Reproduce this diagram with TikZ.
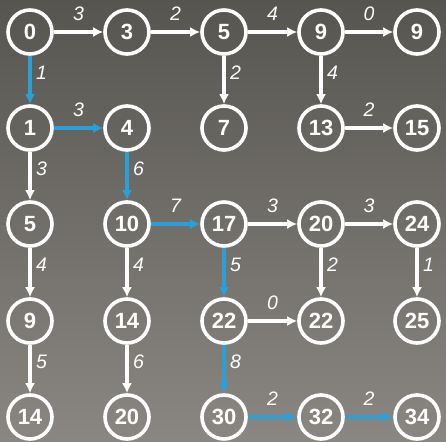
\documentclass[tikz,border=0pt]{standalone}
\usepackage{fontspec}
\setmainfont{Liberation Sans}
\usepackage{xcolor}
\usetikzlibrary{arrows.meta}

\definecolor{pathblue}{HTML}{2A9FD8}
\definecolor{boardtop}{HTML}{57554F}
\definecolor{boardbot}{HTML}{8A8782}

\begin{document}
\begin{tikzpicture}[x=1pt,y=-1pt,
  vtx/.style={circle, draw=white, line width=3.6pt, minimum size=44pt, inner sep=0pt,
    text=white, font=\bfseries\fontsize{22}{22}\selectfont},
  edge/.style={-{Latex[length=10pt,width=10pt]}, line width=3.2pt, draw=white},
  best/.style={edge, draw=pathblue},
  wt/.style={text=white, font=\itshape\fontsize{19.5}{19.5}\selectfont, inner sep=1.5pt}]

\shade[top color=boardtop, bottom color=boardbot] (0,0) rectangle (446,441);
\useasboundingbox (0,0) rectangle (446,441);

% row 1
\node[vtx] (a0) at (30,32) {0};
\node[vtx] (a1) at (127,32) {3};
\node[vtx] (a2) at (224,32) {5};
\node[vtx] (a3) at (321,32) {9};
\node[vtx] (a4) at (417,32) {9};
% row 2
\node[vtx] (b0) at (30,128) {1};
\node[vtx] (b1) at (127,128) {4};
\node[vtx] (b2) at (224,128) {7};
\node[vtx] (b3) at (321,128) {13};
\node[vtx] (b4) at (417,128) {15};
% row 3
\node[vtx] (c0) at (30,224) {5};
\node[vtx] (c1) at (127,224) {10};
\node[vtx] (c2) at (224,224) {17};
\node[vtx] (c3) at (321,224) {20};
\node[vtx] (c4) at (417,224) {24};
% row 4
\node[vtx] (d0) at (30,321) {9};
\node[vtx] (d1) at (127,321) {14};
\node[vtx] (d2) at (224,321) {22};
\node[vtx] (d3) at (321,321) {22};
\node[vtx] (d4) at (417,321) {25};
% row 5
\node[vtx] (e0) at (30,417) {14};
\node[vtx] (e1) at (127,417) {20};
\node[vtx] (e2) at (224,417) {30};
\node[vtx] (e3) at (321,417) {32};
\node[vtx] (e4) at (417,417) {34};

% across
\draw[edge] (a0) -- (a1) node[wt, midway, above=8pt]{3};
\draw[edge] (a1) -- (a2) node[wt, midway, above=8pt]{2};
\draw[edge] (a2) -- (a3) node[wt, midway, above=8pt]{4};
\draw[edge] (a3) -- (a4) node[wt, midway, above=8pt]{0};
\draw[best] (b0) -- (b1) node[wt, midway, above=8pt]{3};
\draw[edge] (b3) -- (b4) node[wt, midway, above=8pt]{2};
\draw[best] (c1) -- (c2) node[wt, midway, above=8pt]{7};
\draw[edge] (c2) -- (c3) node[wt, midway, above=8pt]{3};
\draw[edge] (c3) -- (c4) node[wt, midway, above=8pt]{3};
\draw[edge] (d2) -- (d3) node[wt, midway, above=8pt]{0};
\draw[best] (e2) -- (e3) node[wt, midway, above=8pt]{2};
\draw[best] (e3) -- (e4) node[wt, midway, above=8pt]{2};

% down
\draw[best] (a0) -- (b0) node[wt, pos=0.35, right=3pt]{1};
\draw[edge] (a2) -- (b2) node[wt, pos=0.35, right=3pt]{2};
\draw[edge] (a3) -- (b3) node[wt, pos=0.35, right=3pt]{4};
\draw[edge] (b0) -- (c0) node[wt, pos=0.35, right=3pt]{3};
\draw[best] (b1) -- (c1) node[wt, pos=0.35, right=3pt]{6};
\draw[edge] (c0) -- (d0) node[wt, pos=0.35, right=3pt]{4};
\draw[edge] (c1) -- (d1) node[wt, pos=0.35, right=3pt]{4};
\draw[best] (c2) -- (d2) node[wt, pos=0.35, right=3pt]{5};
\draw[edge] (c3) -- (d3) node[wt, pos=0.35, right=3pt]{2};
\draw[edge] (c4) -- (d4) node[wt, pos=0.35, right=3pt]{1};
\draw[edge] (d0) -- (e0) node[wt, pos=0.35, right=3pt]{5};
\draw[edge] (d1) -- (e1) node[wt, pos=0.35, right=3pt]{6};
\draw[best] (d2) -- (e2) node[wt, pos=0.35, right=3pt]{8};

\end{tikzpicture}
\end{document}
